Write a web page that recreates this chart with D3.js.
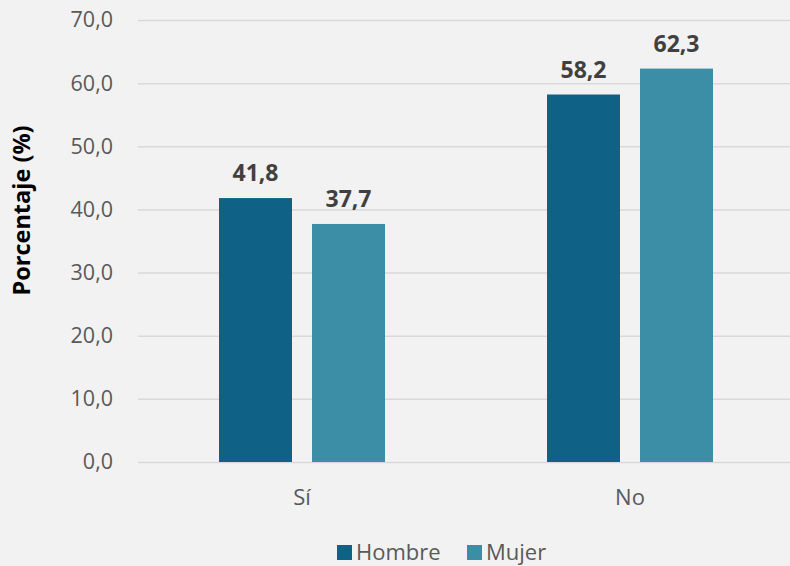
<!DOCTYPE html>
<html><head><meta charset="utf-8">
<script src="https://cdn.jsdelivr.net/npm/d3@7"></script>
<style>body{margin:0;background:#f2f2f2;}svg{display:block;}</style>
</head><body><svg id="c" width="790" height="566"></svg>
<script>
const categories = ["Sí", "No"];
const seriesNames = ["Hombre", "Mujer"];
const hombre = [41.8, 58.2];
const mujer = [37.7, 62.3];
const yTicks = [0, 10, 20, 30, 40, 50, 60, 70];
const colors = ["#0f6286", "#3b8ea6"];
const seriesValues = [hombre, mujer];

(function () {
const svg = d3.select("#c");
svg.append("rect").attr("width", 790).attr("height", 566).attr("fill", "#f2f2f2");
const font = "'Open Sans','Noto Sans',sans-serif";
const mLeft = 138, mRight = 794, mTop = 20, mBottom = 462;
const y = d3.scaleLinear().domain([0, 70]).range([mBottom, mTop]);
const x = d3.scaleBand().domain(categories).range([mLeft, mRight]).paddingInner(0).paddingOuter(0);
const groupW = 166;
const inner = d3.scaleBand().domain(seriesNames).range([0, groupW]).paddingInner(20/93).paddingOuter(0);

const yAxis = d3.axisLeft(y).tickValues(yTicks).tickSize(-(mRight - mLeft)).tickFormat(d => d3.format(".1f")(d).replace(".", ","));
const gy = svg.append("g").attr("transform", `translate(${mLeft},0)`).call(yAxis);
gy.select(".domain").remove();
gy.selectAll(".tick line").attr("stroke", "#d9d9d9").attr("stroke-width", 1.5);
gy.selectAll(".tick text").attr("x", -25).attr("fill", "#595959").style("font-family", font).style("font-size", "21.5px");

const xAxis = d3.axisBottom(x).tickSize(0);
const gx = svg.append("g").attr("transform", `translate(0,${mBottom})`).call(xAxis);
gx.select(".domain").remove();
gx.selectAll(".tick text").attr("y", 43).attr("dy", 0).attr("fill", "#595959").style("font-family", font).style("font-size", "22px");

categories.forEach((cat, ci) => {
  const gx0 = x(cat) + (x.bandwidth() - groupW) / 2;
  seriesNames.forEach((s, si) => {
    const v = seriesValues[si][ci];
    const bx = gx0 + inner(s);
    svg.append("rect").attr("x", bx).attr("y", y(v)).attr("width", inner.bandwidth())
      .attr("height", y(0) - y(v)).attr("fill", colors[si]);
    svg.append("text").attr("x", bx + inner.bandwidth() / 2).attr("y", y(v) - 17)
      .attr("text-anchor", "middle").attr("fill", "#404040").style("font-family", font)
      .style("font-size", "23px").style("font-weight", "bold").text(d3.format(".1f")(v).replace(".", ","));
  });
});

svg.append("text").attr("transform", "translate(30,210.5) rotate(-90)").attr("text-anchor", "middle")
  .style("font-family", font).style("font-size", "23.5px").style("font-weight", "bold").attr("fill", "#000")
  .text("Porcentaje (%)");

const legendX = [337, 467];
seriesNames.forEach((s, i) => {
  svg.append("rect").attr("x", legendX[i]).attr("y", 545).attr("width", 15).attr("height", 15).attr("fill", colors[i]);
  svg.append("text").attr("x", legendX[i] + 19).attr("y", 560).attr("fill", "#595959")
    .style("font-family", font).style("font-size", "22px").text(s);
});
})();
</script></body></html>
